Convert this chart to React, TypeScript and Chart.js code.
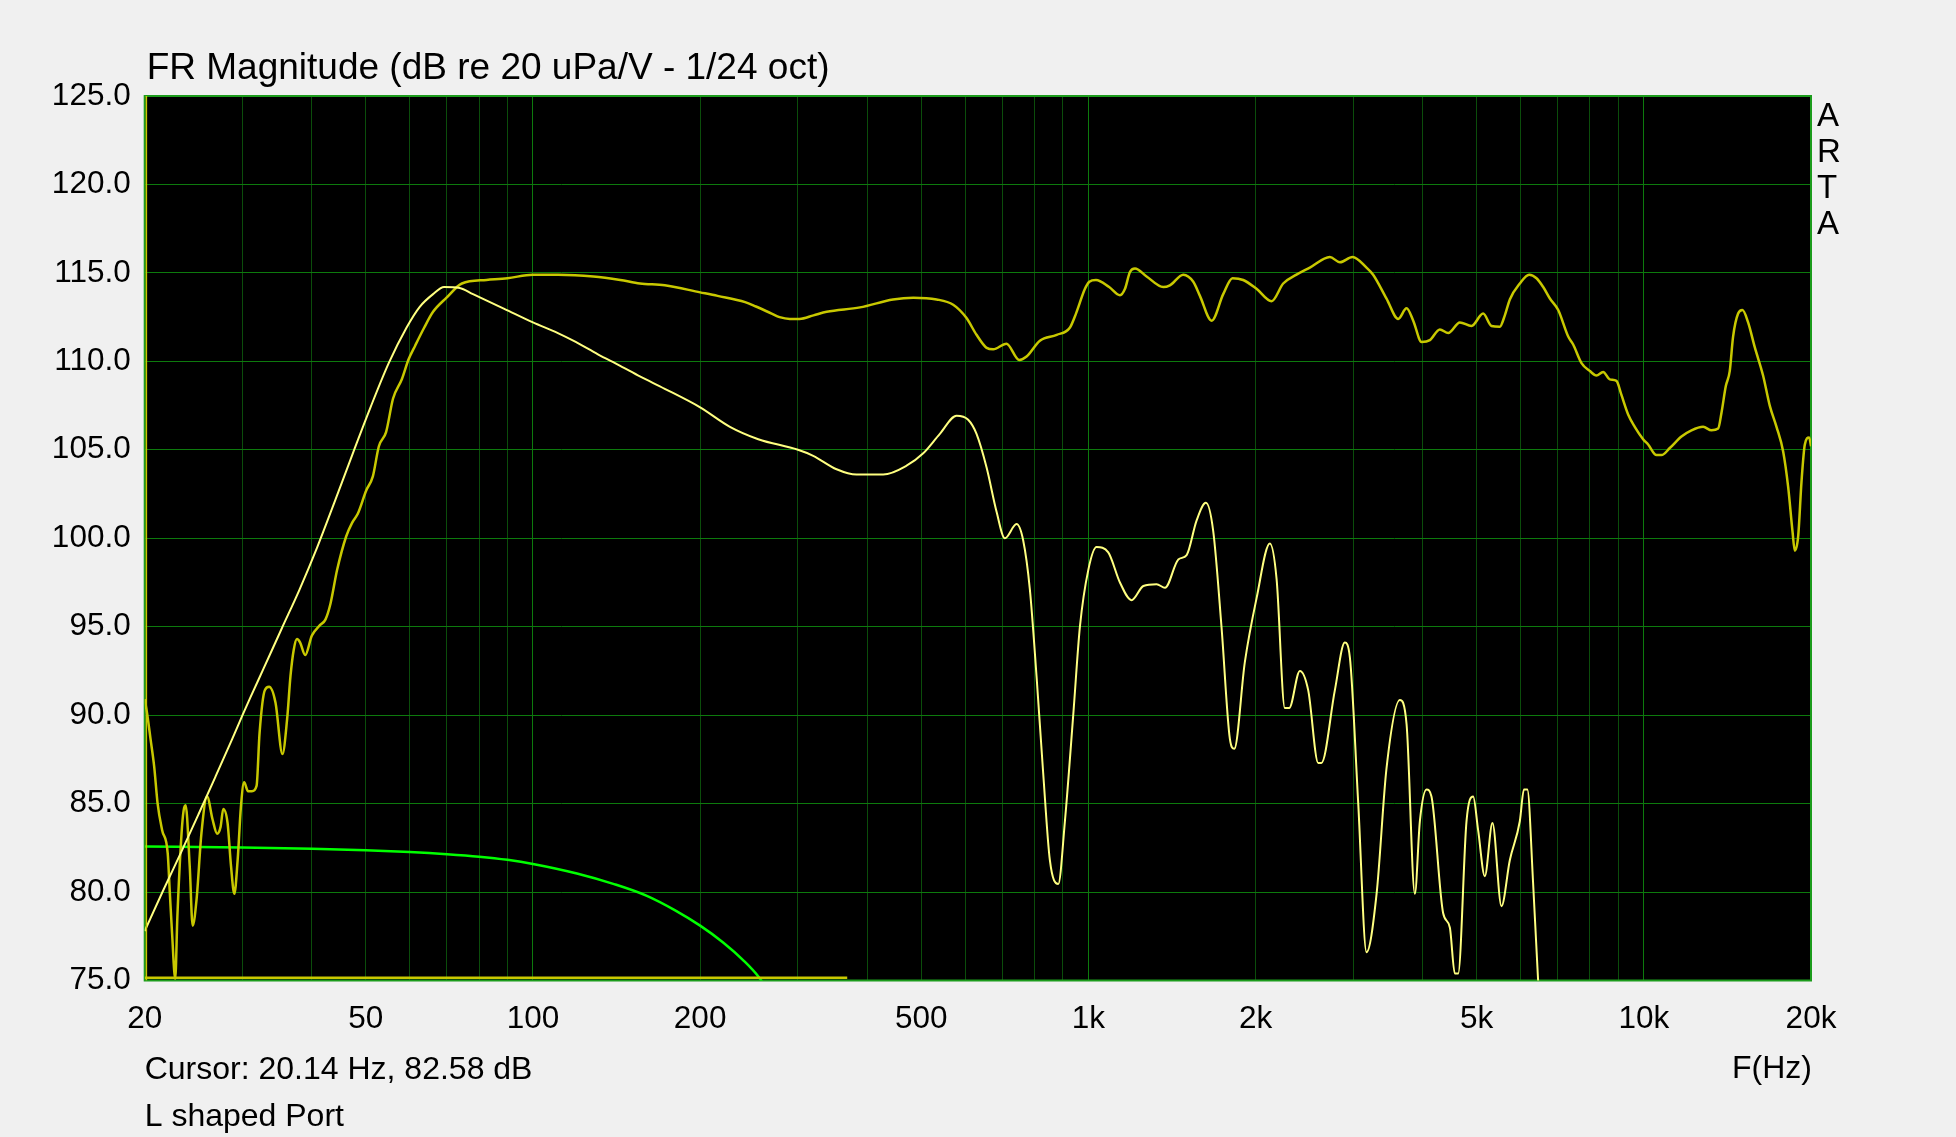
import React, { useEffect, useRef } from 'react';
import { Chart, registerables } from 'chart.js';

Chart.register(...registerables);

const FONT = '"Liberation Sans", Arial, Helvetica, sans-serif';

// ---- axes ----
const X_MIN = 20;
const X_MAX = 20000;
const X_GRID_TICKS = [20, 30, 40, 50, 60, 70, 80, 90, 100, 200, 300, 400, 500, 600, 700, 800, 900,
  1000, 2000, 3000, 4000, 5000, 6000, 7000, 8000, 9000, 10000, 20000];
const X_MAJOR_TICKS = [100, 1000, 10000];
const X_TICK_LABELS: Record<number, string> = {
  20: '20', 50: '50', 100: '100', 200: '200', 500: '500',
  1000: '1k', 2000: '2k', 5000: '5k', 10000: '10k', 20000: '20k',
};
const Y_MIN = 75;
const Y_MAX = 125;
const Y_STEP = 5;

// ---- texts ----
const TITLE = 'FR Magnitude (dB re 20 uPa/V - 1/24 oct)';
const CURSOR_TEXT = 'Cursor: 20.14 Hz, 82.58 dB';
const NOTE_TEXT = 'L shaped Port';
const X_UNIT = 'F(Hz)';
const BRAND = ['A', 'R', 'T', 'A'];

// ---- series A: full response (dark yellow) ----
const respFreq = [20.0, 20.2, 20.5, 20.8, 21.1, 21.5, 22.0, 22.2, 22.4, 22.7, 22.9, 23.3, 23.5, 23.7, 24.1, 24.4, 24.8,
  25.3, 25.9, 26.5, 27.0, 27.4, 27.7, 28.2, 28.6, 29.0, 29.4, 29.8, 30.2, 30.7, 31.2, 31.8, 32.2, 32.9, 33.5, 34.4,
  35.4, 36.1, 36.6, 37.1, 37.6, 38.1, 38.9, 40.0, 41.4, 42.3, 43.2, 44.4, 46.1, 47.3, 48.4, 50.1, 51.5, 52.8, 54.4,
  56.0, 58.1, 59.7, 61.4, 63.7, 66.1, 69.9, 74.5, 82.5, 90, 100, 111, 128.5, 143.6, 155.8, 172.7, 200, 215, 241,
  252, 269, 278, 290, 302, 320, 338, 388, 445, 484, 533, 571, 603, 629, 656, 674, 712, 751, 774, 818, 877, 926,
  950, 986, 1004, 1032, 1090, 1140, 1164, 1188, 1213, 1273, 1364, 1402, 1482, 1545, 1588, 1667, 1749, 1818, 1900,
  2008, 2137, 2243, 2370, 2505, 2721, 2837, 2990, 3168, 3256, 3442, 3613, 3740, 3845, 3980, 4119, 4294, 4445,
  4665, 4896, 5137, 5318, 5505, 5621, 5739, 5982, 6218, 6410, 6590, 6775, 7013, 7310, 7462, 7724, 7997, 8218,
  8449, 8685, 8929, 9115, 9371, 9632, 9972, 10182, 10540, 10762, 11139, 11690, 12185, 12790, 13240, 13610,
  13800, 14050, 14280, 14480, 14785, 15053, 15410, 15840, 16396, 16856, 17335, 17820, 18192, 18522, 18702,
  18963, 19228, 19495, 19849, 20000];
const respDb = [90.9, 90.1, 88.6, 87.1, 85.0, 83.5, 82.2, 79.9, 77.7, 75.1, 78.6, 83.3, 84.6, 84.9, 81.5, 78.1, 79.6,
  83.3, 85.4, 84.1, 83.3, 83.7, 84.7, 83.9, 81.5, 79.9, 81.8, 84.8, 86.2, 85.7, 85.7, 86.0, 89.0, 91.4, 91.6, 90.7,
  87.8, 89.8, 92.2, 93.7, 94.3, 94.1, 93.4, 94.5, 95.1, 95.4, 96.3, 98.2, 100.1, 100.9, 101.4, 102.7, 103.5, 105.2, 106.0,
  107.9, 109.0, 110.1, 110.9, 111.9, 112.8, 113.6, 114.4, 114.6, 114.7, 114.9, 114.9, 114.8, 114.6, 114.4, 114.3, 113.9, 113.7, 113.35,
  113.1, 112.7, 112.5, 112.4, 112.4, 112.6, 112.8, 113.05, 113.5, 113.6, 113.5, 113.2, 112.46, 111.5, 110.76, 110.68, 111.0, 110.08, 110.27, 111.17, 111.5, 111.9,
  112.7, 114.1, 114.5, 114.6, 114.2, 113.74, 114.1, 115.05, 115.25, 114.8, 114.2, 114.3, 114.9, 114.5, 113.7, 112.3, 113.8, 114.7, 114.6,
  114.1, 113.4, 114.4, 114.9, 115.3, 115.9, 115.6, 115.9, 115.3, 114.9, 113.55, 112.4, 113.0, 112.3, 111.1, 111.2, 111.8, 111.6,
  112.2, 112.0, 112.7, 112.0, 111.96, 112.6, 113.5, 114.4, 114.9, 114.7, 114.2, 113.55, 112.9, 111.4, 110.95, 109.9, 109.45, 109.2,
  109.4, 108.98, 108.9, 108.1, 107.0, 106.3, 105.6, 105.3, 104.7, 104.7, 105.1, 105.75, 106.1, 106.3, 106.1, 106.2,
  107.1, 108.6, 109.45, 111.4, 112.7, 112.9, 112.2, 110.8, 109.2, 107.5, 106.3, 104.9, 102.9, 100.4, 99.3,
  100.1, 103.2, 105.3, 105.7, 105.2];

// ---- series B: second response (light yellow) ----
const nearFreq = [20, 21.6, 23.3, 25, 26.8, 28.7, 30, 31, 32.7, 35.3, 38.0, 40.9, 44.0, 47.4, 51.0, 55.0, 59.2, 62.5,
  66.1, 69.2, 73.8, 78.0, 88.8, 100, 110.9, 119.4, 130.9, 143.6, 155.8, 172.7, 200, 226.3, 254.5, 300,
  319.6, 352.1, 382.4, 427.2, 470.6, 504.3, 540.3, 579, 607.6, 629, 655.8, 683.5, 707.5, 742.5, 763.3, 784.7,
  806.7, 829.3, 852.5, 882.6, 907.3, 939.2, 965.6, 999.6, 1034.7, 1086, 1139.8, 1196, 1256, 1327, 1374, 1452,
  1503, 1566, 1628, 1678, 1737, 1798, 1831, 1913, 2008, 2122, 2182, 2258, 2299, 2403, 2488, 2593, 2628, 2778,
  2895, 2956, 3060, 3168, 3303, 3442, 3638, 3740, 3871, 3952, 4063, 4147, 4353, 4475, 4568, 4632, 4795, 4929,
  5032, 5173, 5340, 5543, 5738, 5981, 6084, 6170, 6320, 6450, 6560];
const nearDb = [77.8, 80.1, 82.3, 84.4, 86.5, 88.6, 90.0, 91.0, 92.6, 94.9, 97.1, 99.5, 102.1, 104.8, 107.4, 109.9, 111.9, 113.07,
  113.8, 114.2, 114.15, 113.8, 112.97, 112.2, 111.6, 111.1, 110.4, 109.75, 109.15, 108.45, 107.4, 106.3, 105.6, 105.0,
  104.66, 103.9, 103.6, 103.6, 104.1, 104.8, 105.9, 106.93, 106.7, 105.9, 104.0, 101.5, 100.0, 100.8, 99.87, 97.1,
  92.2, 86.7, 81.8, 80.45, 84.0, 90.0, 95.0, 98.2, 99.5, 99.2, 97.5, 96.5, 97.3, 97.4, 97.2, 98.8,
  99.05, 101.0, 102.0, 100.4, 94.95, 88.66, 88.1, 93.0, 96.6, 99.7, 97.7, 90.4, 90.4, 92.5, 91.4, 87.3, 87.3, 91.4,
  94.1, 93.3, 85.1, 76.6, 79.9, 87.0, 90.85, 89.5, 79.9, 84.0, 85.8, 85.4, 78.8, 78.0, 75.4, 75.4, 84.0, 85.4,
  83.5, 80.9, 83.9, 79.2, 81.8, 84.0, 85.8, 85.8, 80.5, 75.1, 71.5];

// ---- series C: port response (green) ----
const portFreq = [20, 30, 40, 50, 60, 70, 80, 90, 100, 120, 140, 160, 180, 200, 220, 240, 255, 265];
const portDb = [82.58, 82.52, 82.45, 82.36, 82.26, 82.14, 82.0, 81.82, 81.59, 81.05, 80.45, 79.8, 78.98, 78.1, 77.15, 76.1, 75.2, 74.4];

// ---- floor trace (dark yellow, bottom) ----
const floorFreq = [20, 368];
const floorDb = [75.15, 75.15];

// ---- cursor ----
const cursorFreq = [20.14, 20.14];
const cursorDb = [75, 125];

const COLORS = {
  page: '#f0f0f0',
  plot: '#000000',
  gridMinor: '#0b4d0b',
  gridMajor: '#0d7a0d',
  frame: '#1c9c1c',
  resp: '#c8c800',
  near: '#ffff80',
  port: '#00ff00',
  text: '#000000',
};

const toPoints = (xs: number[], ys: number[]) => xs.map((x, i) => ({ x, y: ys[i] }));

const artaPlugin = {
  id: 'artaDecor',
  beforeDraw(chart: any) {
    const { ctx, chartArea: a, width, height } = chart;
    ctx.save();
    ctx.fillStyle = COLORS.page;
    ctx.fillRect(0, 0, width, height);
    ctx.fillStyle = COLORS.plot;
    ctx.fillRect(a.left, a.top, a.right - a.left, a.bottom - a.top);
    ctx.restore();
  },
  beforeDatasetsDraw(chart: any) {
    const { ctx, chartArea: a } = chart;
    ctx.save();
    ctx.strokeStyle = COLORS.frame;
    ctx.lineWidth = 2;
    ctx.strokeRect(a.left, a.top, a.right - a.left, a.bottom - a.top);
    ctx.restore();
  },
  afterDraw(chart: any) {
    const { ctx, chartArea: a } = chart;
    ctx.save();
    ctx.fillStyle = COLORS.text;
    ctx.textBaseline = 'alphabetic';
    ctx.textAlign = 'left';
    ctx.font = `37px ${FONT}`;
    ctx.fillText(TITLE, a.left + 2, a.top - 16.7);
    ctx.font = `32px ${FONT}`;
    ctx.fillText(CURSOR_TEXT, a.left, a.bottom + 98.8);
    ctx.fillText(NOTE_TEXT, a.left, a.bottom + 145.2);
    ctx.textAlign = 'right';
    ctx.fillText(X_UNIT, a.right + 1, a.bottom + 97.2);
    ctx.textAlign = 'left';
    ctx.font = `33px ${FONT}`;
    BRAND.forEach((ch, i) => {
      ctx.fillText(ch, a.right + 6, a.top + 29.7 + i * 36.1);
    });
    ctx.restore();
  },
};

export default function App() {
  const canvasRef = useRef<HTMLCanvasElement | null>(null);

  useEffect(() => {
    const canvas = canvasRef.current;
    if (!canvas) return;
    const chart = new Chart(canvas, {
      type: 'scatter',
      data: {
        datasets: [
          {
            label: 'Cursor',
            data: toPoints(cursorFreq, cursorDb),
            showLine: true,
            borderColor: COLORS.resp,
            borderWidth: 1.5,
            pointRadius: 0,
          },
          {
            label: 'Response B',
            data: toPoints(nearFreq, nearDb),
            showLine: true,
            borderColor: COLORS.near,
            borderWidth: 2,
            pointRadius: 0,
            cubicInterpolationMode: 'monotone',
          },
          {
            label: 'Response A',
            data: toPoints(respFreq, respDb),
            showLine: true,
            borderColor: COLORS.resp,
            borderWidth: 2.5,
            pointRadius: 0,
            cubicInterpolationMode: 'monotone',
          },
          {
            label: 'Floor',
            data: toPoints(floorFreq, floorDb),
            showLine: true,
            borderColor: COLORS.resp,
            borderWidth: 2.5,
            pointRadius: 0,
          },
          {
            label: 'Port',
            data: toPoints(portFreq, portDb),
            showLine: true,
            borderColor: COLORS.port,
            borderWidth: 2.5,
            pointRadius: 0,
            cubicInterpolationMode: 'monotone',
          },
        ] as any,
      },
      options: {
        animation: false,
        responsive: false,
        devicePixelRatio: 1,
        events: [],
        layout: { padding: { top: 96, right: 145, left: 0, bottom: 0 } },
        plugins: {
          legend: { display: false },
          tooltip: { enabled: false },
          title: { display: false },
        },
        scales: {
          x: {
            type: 'logarithmic',
            min: X_MIN,
            max: X_MAX,
            afterBuildTicks: (axis: any) => {
              axis.ticks = X_GRID_TICKS.map((v) => ({ value: v }));
            },
            afterFit: (axis: any) => {
              axis.height = 156.5;
            },
            border: { display: false },
            grid: {
              drawTicks: false,
              lineWidth: 1,
              color: (c: any) => (c.tick && X_MAJOR_TICKS.includes(c.tick.value) ? COLORS.gridMajor : COLORS.gridMinor),
            },
            ticks: {
              autoSkip: false,
              maxRotation: 0,
              minRotation: 0,
              padding: 20,
              color: COLORS.text,
              font: { family: FONT, size: 31.5 },
              callback: (v: any) => X_TICK_LABELS[Number(v)] ?? '',
            },
          },
          y: {
            type: 'linear',
            min: Y_MIN,
            max: Y_MAX,
            afterFit: (axis: any) => {
              axis.width = 144.7;
            },
            border: { display: false },
            grid: { drawTicks: false, lineWidth: 1, color: COLORS.gridMajor },
            ticks: {
              stepSize: Y_STEP,
              padding: 14,
              color: COLORS.text,
              font: { family: FONT, size: 31.5 },
              callback: (v: any) => Number(v).toFixed(1),
            },
          },
        },
      } as any,
      plugins: [artaPlugin],
    });
    return () => chart.destroy();
  }, []);

  return (
    <div style={{ position: 'fixed', left: 0, top: 0, width: 1956, height: 1137, background: COLORS.page }}>
      <canvas ref={canvasRef} width={1956} height={1137} style={{ width: 1956, height: 1137, display: 'block' }} />
    </div>
  );
}
